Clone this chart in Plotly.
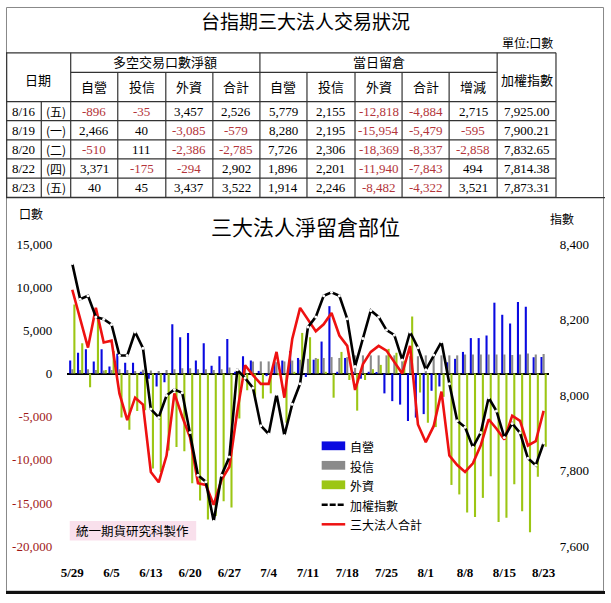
import plotly.graph_objects as go

W, H = 611, 603

# ---------------- table data ----------------
tbl_dates = ["8/16", "8/19", "8/20", "8/22", "8/23"]
tbl_weekday = ["(五)", "(一)", "(二)", "(四)", "(五)"]
net_dealer = [-896, 2466, -510, 3371, 40]
net_trust = [-35, 40, 111, -175, 45]
net_foreign = [3457, -3085, -2386, -294, 3437]
net_total = [2526, -579, -2785, 2902, 3522]
oi_dealer = [5779, 8280, 7726, 1896, 1914]
oi_trust = [2155, 2195, 2306, 2201, 2246]
oi_foreign = [-12818, -15954, -18369, -11940, -8482]
oi_total = [-4884, -5479, -8337, -7843, -4322]
oi_change = [2715, -595, -2858, 494, 3521]
taiex_tbl = [7925.00, 7900.21, 7832.65, 7814.38, 7873.31]

# ---------------- chart data ----------------
dates = ["5/29", "5/30", "5/31", "6/3", "6/4", "6/5", "6/6", "6/7", "6/10", "6/11",
         "6/13", "6/14", "6/17", "6/18", "6/19", "6/20", "6/21", "6/24", "6/25", "6/26",
         "6/27", "6/28", "7/1", "7/2", "7/3", "7/4", "7/5", "7/8", "7/9", "7/10",
         "7/11", "7/12", "7/15", "7/16", "7/17", "7/18", "7/19", "7/22", "7/23", "7/24",
         "7/25", "7/26", "7/29", "7/30", "7/31", "8/1", "8/2", "8/5", "8/6", "8/7",
         "8/8", "8/9", "8/12", "8/13", "8/14", "8/15", "8/16", "8/19", "8/20", "8/22", "8/23"]
tick_dates = ["5/29", "6/5", "6/13", "6/20", "6/27", "7/4", "7/11", "7/18", "7/25",
              "8/1", "8/8", "8/15", "8/23"]

dealer = [1500, 2400, 2800, 1400, 2800, 800, 2300, 1250, 1250, 200,
          -600, -1500, -1000, 5700, 4200, 4700, 1500, 3500, 900, 2000,
          4000, 200, 2000, 1500, 300, -300, 1400, 1500, 2600, 1800,
          -400, 1600, 3700, 7800, 200, 1800, 200, -600, 200, 100,
          -2300, -3200, -3600, -5500, -5100, -4700, -2000, -1500, 1300, 1700,
          2500, 4100, 4100, 4400, 8200, 6800, 5779, 8280, 7726, 1896, 1914]
trust = [500, 400, 500, 400, 350, 400, 500, 400, 300, 450,
         350, 300, 400, 500, 600, 600, 500, 500, 400, 500,
         700, 600, 900, 1400, 1400, 1400, 1300, 1400, 1500, 1600,
         1700, 1800, 1800, 1900, 1800, 1900, 2100, 2100, 2100, 2100,
         2100, 2100, 2100, 2000, 2000, 2100, 2100, 2100, 2100, 2100,
         2200, 2200, 2200, 2200, 2200, 2200, 2155, 2195, 2306, 2201, 2246]
foreign = [8000, 3500, -1600, 6500, 400, 2600, -5100, -6500, -4350, -4250,
           -11000, -11400, -8900, -8500, -9000, -12700, -14700, -16900, -16500, -14800,
           -15500, -5200, -1950, -3100, -2900, -2300, -200, -5700, 200, 4700,
           4200, 1700, 200, -2800, 2500, -750, -4300, -750, 500, 1000,
           2850, 2400, 1500, 6600, -2200, -5700, -6200, -2700, -12900, -14000,
           -16100, -16600, -14400, -11900, -17200, -16700, -12818, -15954, -18369, -11940, -8482]
total = [9700, 6400, 3000, 7600, 3600, 3800, -2300, -5400, -2800, -3600,
         -11400, -12600, -9500, -2300, -5000, -7400, -12700, -12900, -15200, -12300,
         -10800, -4400, 950, -200, -1200, -1200, 2500, -2800, 4000, 7600,
         6250, 4900, 5700, 7000, 4400, 3200, -1900, 1100, 2500, 3200,
         2650, 1300, 0, 3200, -5900, -7950, -6100, -2100, -9500, -10600,
         -11400, -10400, -8300, -5300, -6400, -7650, -4884, -5479, -8337, -7843, -4322]
taiex = [8348, 8254, 8263, 8207, 8201, 8187, 8105, 8105, 8167, 8124,
         7963, 7941, 7999, 8015, 8006, 7901, 7788, 7771, 7666, 7788,
         7836, 8067, 8045, 8019, 7919, 7897, 8002, 7893, 7976, 8030,
         8180, 8207, 8263, 8272, 8263, 8202, 8076, 8150, 8224, 8207,
         8172, 8159, 8093, 8167, 8125, 8067, 8106, 8141, 8030, 7932,
         7915, 7862, 7901, 7993, 7958, 7888, 7925.00, 7900.21, 7832.65, 7814.38, 7873.31]

left_ticks = [15000, 10000, 5000, 0, -5000, -10000, -15000, -20000]
right_ticks = [8400, 8200, 8000, 7800, 7600]

C_BLUE = "#0a0ae0"
C_GRAY = "#8a8a8a"
C_GREEN = "#9cc614"
C_RED = "#ee1111"
C_NEG = "#b3343a"
C_NEGAX = "#a01818"
CJK = "Noto Sans CJK TC"
SERIF = "Liberation Serif"


def X(p):
    return p / W


def Y(p):
    return 1 - p / H


fig = go.Figure()
fig.add_trace(go.Bar(x=dates, y=dealer, name="自營", marker=dict(color=C_BLUE, line=dict(width=0))))
fig.add_trace(go.Bar(x=dates, y=trust, name="投信", marker=dict(color=C_GRAY, line=dict(width=0))))
fig.add_trace(go.Bar(x=dates, y=foreign, name="外資", marker=dict(color=C_GREEN, line=dict(width=0))))
fig.add_trace(go.Scatter(x=dates, y=total, name="三大法人合計", mode="lines",
                         line=dict(color=C_RED, width=2.6)))
fig.add_trace(go.Scatter(x=dates, y=taiex, name="加權指數", mode="lines+markers", yaxis="y2",
                         line=dict(color="black", width=2.6),
                         marker=dict(color="white", size=3, line=dict(width=0))))

shapes = []
annotations = []


def hline(y, x0, x1, w=1.2, c="#333333"):
    shapes.append(dict(type="line", xref="paper", yref="paper", x0=X(x0), x1=X(x1),
                       y0=Y(y), y1=Y(y), line=dict(color=c, width=w)))


def vline(x, y0, y1, w=1.2, c="#333333"):
    shapes.append(dict(type="line", xref="paper", yref="paper", x0=X(x), x1=X(x),
                       y0=Y(y0), y1=Y(y1), line=dict(color=c, width=w)))


def text(x, y, s, size=13, family=CJK, color="black", xanchor="center"):
    annotations.append(dict(x=X(x), y=Y(y), xref="paper", yref="paper", text=s,
                            showarrow=False, xanchor=xanchor, yanchor="middle",
                            font=dict(size=size, family=family, color=color)))


# outer frame
shapes.append(dict(type="rect", xref="paper", yref="paper", x0=X(0.5), x1=X(609.5),
                   y0=Y(599), y1=Y(0.5), line=dict(color="#888888", width=1)))
hline(600.5, 0, 611, w=3, c="#111111")
hline(195.5, 0, 611, w=1.2)

# table geometry
col_x = [66, 114, 163, 211, 259, 307, 356, 404, 452, 501, 561]
row_y = [97, 116.6, 136.2, 155.8, 175.4, 195.2]
hline(47, 0, 561)
hline(67, 66, 501)
for ry in row_y:
    hline(ry, 0, 561)
vline(0.7, 47, 195)
vline(36, 97, 195)
for cx in [66, 259, 501, 561]:
    vline(cx, 47, 195)
for cx in [114, 163, 211, 307, 356, 404, 452]:
    vline(cx, 67, 195)

text(305, 14, "台指期三大法人交易狀況", size=19)
text(560, 36, "單位:口數", size=12, xanchor="right")
text(33, 74, "日期", size=13)
text(162.5, 56, "多空交易口數淨額", size=13)
text(380, 56, "當日留倉", size=13)
text(531, 74, "加權指數", size=13)
sub_heads = ["自營", "投信", "外資", "合計", "自營", "投信", "外資", "合計", "增減"]
for k, s in enumerate(sub_heads):
    text((col_x[k] + col_x[k + 1]) / 2, 82, s, size=13)

cols = [net_dealer, net_trust, net_foreign, net_total,
        oi_dealer, oi_trust, oi_foreign, oi_total, oi_change]
for r in range(len(tbl_dates)):
    cy = (row_y[r] + row_y[r + 1]) / 2
    text(18, cy, tbl_dates[r], size=13, family=SERIF)
    text(51, cy, tbl_weekday[r], size=12)
    for k, col in enumerate(cols):
        v = col[r]
        text((col_x[k] + col_x[k + 1]) / 2, cy, f"{v:,}", size=13, family=SERIF,
             color=C_NEG if v < 0 else "black")
    text(531, cy, f"{taiex_tbl[r]:,.2f}", size=13, family=SERIF)

# chart texts
text(305, 225, "三大法人淨留倉部位", size=21)
text(26, 212, "口數", size=12)
text(567, 217, "指數", size=12)

# watermark
shapes.append(dict(type="rect", xref="paper", yref="paper", x0=X(65), x1=X(194),
                   y0=Y(547), y1=Y(527), fillcolor="#f9e0ec", line=dict(width=0), layer="below"))
text(129.5, 537, "統一期貨研究科製作", size=12.5)

# manual legend
lx0, lx1 = 322, 346
for yy, c, s in [(450, C_BLUE, "自營"), (470, C_GRAY, "投信"), (490, C_GREEN, "外資")]:
    shapes.append(dict(type="rect", xref="paper", yref="paper", x0=X(lx0), x1=X(lx1),
                       y0=Y(yy + 4.5), y1=Y(yy - 4.5), fillcolor=c, line=dict(width=0)))
    text(349, yy + 1, s, size=12, xanchor="left")
shapes.append(dict(type="line", xref="paper", yref="paper", x0=X(lx0), x1=X(lx1),
                   y0=Y(510.5), y1=Y(510.5), line=dict(color="black", width=2.5, dash="6px,2px")))
text(349, 511, "加權指數", size=12, xanchor="left")
shapes.append(dict(type="line", xref="paper", yref="paper", x0=X(lx0), x1=X(lx1),
                   y0=Y(530.5), y1=Y(530.5), line=dict(color=C_RED, width=2.5)))
text(349, 531, "三大法人合計", size=12, xanchor="left")

left_text = [f"<span style='color:{C_NEGAX}'>{v:,}</span>" if v < 0 else f"{v:,}" for v in left_ticks]
right_text = [f"{v:,}" for v in right_ticks]

fig.update_layout(
    width=W, height=H, autosize=False,
    margin=dict(l=0, r=0, t=0, b=0),
    paper_bgcolor="white", plot_bgcolor="white",
    barmode="group", bargap=0.2, bargroupgap=0,
    showlegend=False,
    xaxis=dict(domain=[X(62), X(554)], type="category", range=[-0.7, len(dates) - 0.3],
               tickmode="array", tickvals=tick_dates,
               ticktext=[f"<b>{t}</b>" for t in tick_dates],
               tickfont=dict(family=SERIF, size=13, color="black"),
               ticks="outside", ticklen=14, tickcolor="rgba(0,0,0,0)",
               showgrid=False, showline=False, zeroline=False),
    yaxis=dict(domain=[Y(553), Y(243)], range=[-20000, 15000],
               tickmode="array", tickvals=left_ticks, ticktext=left_text,
               tickfont=dict(family=SERIF, size=13, color="black"),
               ticks="outside", ticklen=11, tickcolor="rgba(0,0,0,0)",
               showgrid=False, showline=False,
               zeroline=True, zerolinecolor="black", zerolinewidth=1.5),
    yaxis2=dict(overlaying="y", side="right", range=[7600, 8400],
                tickmode="array", tickvals=right_ticks, ticktext=right_text,
                tickfont=dict(family=SERIF, size=13, color="black"),
                ticks="outside", ticklen=7, tickcolor="rgba(0,0,0,0)",
                showgrid=False, showline=False, zeroline=False),
    shapes=shapes,
    annotations=annotations,
)

fig.write_html("out.html")
